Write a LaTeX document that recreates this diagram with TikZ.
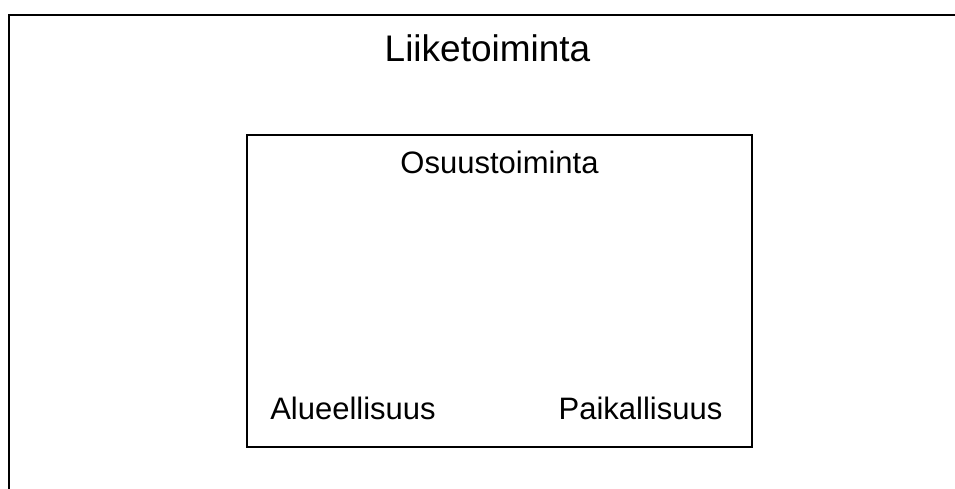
\documentclass[tikz,border=0pt]{standalone}
\usepackage{fontspec}
\setmainfont{Liberation Sans}
\usepackage{tikz}
\usetikzlibrary{positioning}

\begin{document}
\begin{tikzpicture}[x=1pt,y=-1pt,shape=rectangle,
  box/.style={draw, line width=2pt, inner sep=0pt},
  big/.style={font=\fontsize{37}{40}\selectfont, anchor=base},
  word/.style={font=\fontsize{31}{34}\selectfont, anchor=base}]
\useasboundingbox (0,0) rectangle (955,489);
\clip (0,0) rectangle (955,489);
\node (liike) [box, minimum width=1100pt, minimum height=600pt, anchor=north west] at (8,14.5) {};
\node (osuus) [box, minimum width=505pt, minimum height=311pt] at (499.5,291) {};

\node (liiketitle) [big] at (487.5,62) {Liiketoiminta};
\node (osuustitle) [word] at (499.5,174) {Osuustoiminta};
\node (alue) [word] at (353,419) {Alueellisuus};
\node (paikka) [word] at (640.5,419) {Paikallisuus};
\end{tikzpicture}
\end{document}
